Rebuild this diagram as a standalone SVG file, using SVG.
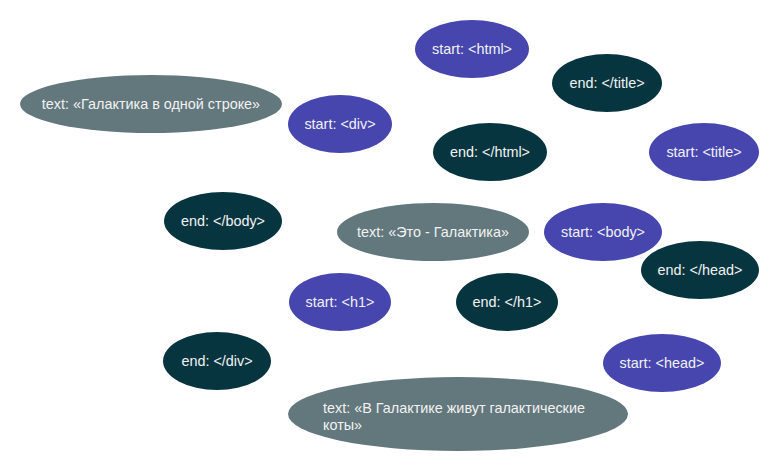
<svg xmlns="http://www.w3.org/2000/svg" width="780" height="472" viewBox="0 0 780 472">
<style>
.start{fill:#4646ae}
.end{fill:#07353f}
.text{fill:#62787d}
text{font-family:"Liberation Sans",Arial,sans-serif;font-size:14.4px;fill:#f2f2f2}
.c{text-anchor:middle}
</style>
<rect width="780" height="472" fill="#ffffff"/>
<g id="connectors"></g>
<g id="n-start-html"><ellipse class="start" cx="472" cy="49" rx="57" ry="29"/><text class="c" x="472" y="54">start: &lt;html&gt;</text></g>
<g id="n-end-title"><ellipse class="end" cx="607" cy="83" rx="55" ry="29"/><text class="c" x="607" y="88">end: &lt;/title&gt;</text></g>
<g id="n-text-1"><ellipse class="text" cx="151" cy="104" rx="131" ry="29"/><text class="c" x="151" y="109">text: «Галактика в одной строке»</text></g>
<g id="n-start-div"><ellipse class="start" cx="340" cy="124" rx="52" ry="29"/><text class="c" x="340" y="129">start: &lt;div&gt;</text></g>
<g id="n-end-html"><ellipse class="end" cx="490" cy="152" rx="57" ry="29"/><text class="c" x="490" y="157">end: &lt;/html&gt;</text></g>
<g id="n-start-title"><ellipse class="start" cx="704" cy="152" rx="55" ry="29"/><text class="c" x="704" y="157">start: &lt;title&gt;</text></g>
<g id="n-end-body"><ellipse class="end" cx="223" cy="221" rx="59" ry="29"/><text class="c" x="223" y="226">end: &lt;/body&gt;</text></g>
<g id="n-text-2"><ellipse class="text" cx="433" cy="232" rx="96" ry="29"/><text class="c" x="433" y="237">text: «Это - Галактика»</text></g>
<g id="n-start-body"><ellipse class="start" cx="603" cy="232" rx="59" ry="29"/><text class="c" x="603" y="237">start: &lt;body&gt;</text></g>
<g id="n-end-head"><ellipse class="end" cx="700" cy="270" rx="59" ry="29"/><text class="c" x="700" y="275">end: &lt;/head&gt;</text></g>
<g id="n-start-h1"><ellipse class="start" cx="340" cy="302" rx="51" ry="29"/><text class="c" x="340" y="307">start: &lt;h1&gt;</text></g>
<g id="n-end-h1"><ellipse class="end" cx="507" cy="302" rx="51" ry="29"/><text class="c" x="507" y="307">end: &lt;/h1&gt;</text></g>
<g id="n-end-div"><ellipse class="end" cx="217" cy="361" rx="54" ry="29"/><text class="c" x="217" y="366">end: &lt;/div&gt;</text></g>
<g id="n-start-head"><ellipse class="start" cx="662" cy="363" rx="59" ry="29"/><text class="c" x="662" y="368">start: &lt;head&gt;</text></g>
<g id="n-text-3"><ellipse class="text" cx="458" cy="414" rx="170" ry="37"/><text x="323" y="413">text: «В Галактике живут галактические</text><text x="323" y="430">коты»</text></g>
</svg>
